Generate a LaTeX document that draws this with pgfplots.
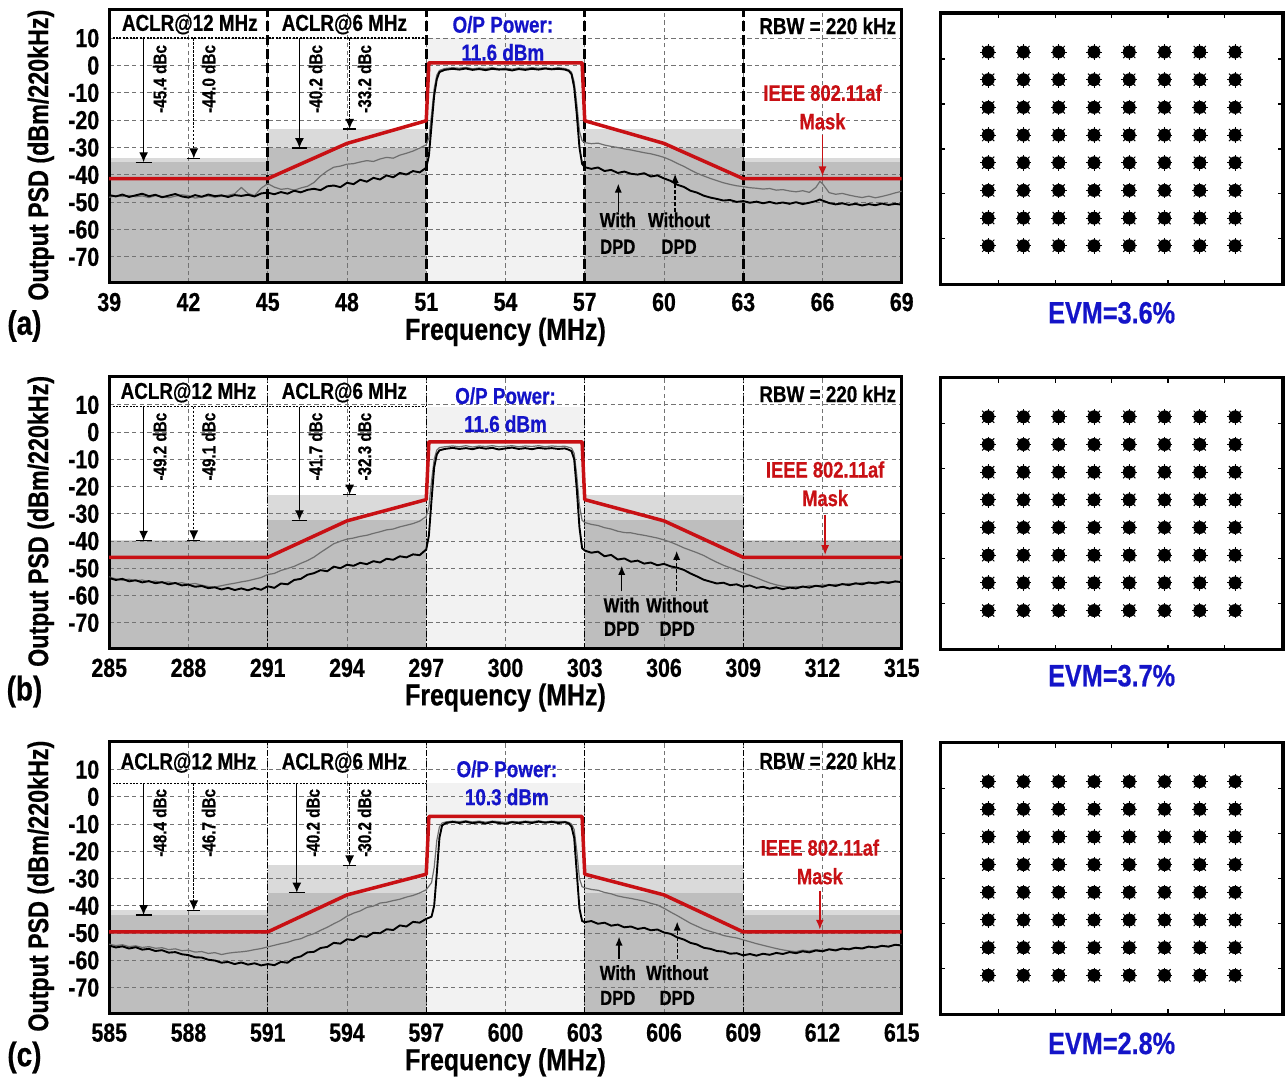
\documentclass[border=0pt]{standalone}
\usepackage{fontspec}
\setmainfont{Liberation Sans}[FakeStretch=0.82, FakeBold=0.6, UprightFont={* Bold}, BoldFont={* Bold}]
\usepackage{pgfplots}
\pgfplotsset{compat=1.18}
\usepackage{pgfplotstable}
\usetikzlibrary{arrows.meta}

\definecolor{maskred}{RGB}{200,16,20}
\definecolor{opblue}{RGB}{20,20,200}
\definecolor{shLight}{RGB}{218,218,218}
\definecolor{shDark}{RGB}{190,190,190}
\definecolor{shBand}{RGB}{242,242,242}
\definecolor{traceGray}{RGB}{110,110,110}
\newcommand{\fs}[2]{\fontsize{#1}{#2}\selectfont}

% ---------- spectra: f [MHz], with DPD (w), without DPD (wo) [dBm/220kHz]
\pgfplotstableread{
f w wo
39.00 -47.4 -48.2
39.25 -47.9 -47.6
39.50 -47.2 -47.9
39.75 -48.1 -47.5
40.00 -47.5 -48.0
40.25 -46.9 -47.7
40.50 -47.8 -48.3
40.75 -47.3 -47.6
41.00 -48.2 -47.9
41.25 -47.6 -48.4
41.50 -47.0 -47.8
41.75 -47.9 -47.3
42.00 -48.3 -47.6
42.25 -47.4 -48.5
42.50 -48.0 -48.1
42.75 -47.2 -47.7
43.00 -47.8 -48.2
43.25 -47.5 -47.8
43.50 -48.1 -47.5
43.75 -47.4 -46.9
44.00 -47.7 -44.6
44.25 -47.3 -46.8
44.50 -47.9 -47.6
44.75 -46.8 -44.9
45.00 -46.5 -43.2
45.25 -47.1 -44.5
45.50 -46.3 -45.3
45.75 -46.9 -45.0
46.00 -45.8 -45.6
46.25 -46.4 -44.8
46.50 -45.5 -44.2
46.75 -45.1 -42.8
47.00 -45.6 -40.4
47.25 -44.2 -38.6
47.50 -43.9 -37.2
47.75 -44.5 -36.8
48.00 -42.9 -36.1
48.25 -43.4 -35.9
48.50 -41.8 -35.3
48.75 -42.5 -34.8
49.00 -41.1 -35.1
49.25 -41.7 -34.2
49.50 -40.2 -33.6
49.75 -40.9 -33.9
50.00 -39.3 -32.8
50.25 -39.9 -32.1
50.50 -38.6 -31.3
50.75 -39.1 -30.2
51.00 -37.4 -29.0
51.10 -33.0 -26.5
51.20 -22.0 -18.0
51.30 -11.0 -8.5
51.40 -5.0 -3.5
51.50 -2.4 -1.8
51.70 -1.6 -1.1
52.00 -1.2 -0.8
52.25 -1.5 -1.0
52.50 -1.1 -0.7
52.75 -1.6 -1.2
53.00 -1.3 -0.9
53.25 -1.7 -1.1
53.50 -1.2 -0.8
53.75 -1.5 -1.2
54.00 -1.4 -1.0
54.25 -1.8 -1.3
54.50 -1.3 -0.9
54.75 -1.6 -1.1
55.00 -1.2 -0.8
55.25 -1.5 -1.0
55.50 -1.1 -0.9
55.75 -1.4 -1.1
56.00 -1.2 -0.8
56.25 -1.5 -1.1
56.40 -2.0 -1.6
56.50 -3.2 -2.5
56.60 -8.0 -6.0
56.70 -18.0 -14.0
56.80 -30.0 -24.0
56.90 -36.0 -27.5
57.00 -37.2 -28.2
57.25 -37.8 -28.6
57.50 -37.3 -28.4
57.75 -38.6 -29.1
58.00 -38.2 -29.6
58.25 -39.3 -30.0
58.50 -38.8 -30.5
58.75 -39.6 -30.9
59.00 -39.9 -31.4
59.25 -39.4 -31.9
59.50 -40.6 -32.3
59.75 -40.2 -32.9
60.00 -41.3 -33.6
60.25 -42.2 -34.6
60.50 -43.6 -35.8
60.75 -44.4 -36.9
61.00 -45.8 -38.2
61.25 -46.5 -39.4
61.50 -47.6 -40.4
61.75 -48.3 -41.3
62.00 -48.8 -42.1
62.25 -49.4 -42.9
62.50 -49.2 -43.5
62.75 -49.9 -44.0
63.00 -49.6 -44.3
63.25 -50.2 -44.7
63.50 -49.8 -44.9
63.75 -50.4 -45.2
64.00 -49.9 -45.0
64.25 -50.5 -45.6
64.50 -50.1 -45.4
64.75 -50.6 -45.9
65.00 -50.0 -46.2
65.25 -50.7 -45.8
65.50 -50.2 -46.4
65.75 -49.6 -44.6
65.90 -49.0 -42.4
66.00 -49.4 -43.2
66.25 -50.3 -46.5
66.50 -50.8 -47.1
66.75 -50.4 -46.8
67.00 -51.0 -47.4
67.25 -50.6 -47.9
67.50 -51.2 -48.3
67.75 -50.7 -47.8
68.00 -51.1 -48.4
68.25 -50.5 -47.9
68.50 -51.0 -47.3
68.75 -50.6 -46.6
69.00 -50.9 -46.0
}\psdA

\pgfplotstableread{
f w wo
285.00 -53.6 -53.2
285.25 -54.3 -53.9
285.50 -53.9 -54.4
285.75 -54.8 -54.0
286.00 -54.4 -54.6
286.25 -55.2 -54.3
286.50 -54.7 -55.0
286.75 -55.5 -54.7
287.00 -55.1 -55.3
287.25 -55.9 -55.0
287.50 -55.4 -55.6
287.75 -56.3 -55.3
288.00 -56.0 -55.9
288.25 -56.8 -55.6
288.50 -56.5 -56.2
288.75 -57.3 -56.7
289.00 -57.0 -56.9
289.25 -57.8 -56.4
289.50 -57.2 -55.9
289.75 -58.0 -55.5
290.00 -57.4 -55.0
290.25 -58.1 -54.6
290.50 -57.3 -54.0
290.75 -57.9 -53.4
291.00 -56.6 -52.3
291.25 -57.2 -51.9
291.50 -55.6 -50.8
291.75 -55.9 -50.1
292.00 -54.3 -49.3
292.25 -53.9 -48.2
292.50 -52.4 -47.2
292.75 -51.8 -45.9
293.00 -50.7 -44.2
293.25 -51.1 -42.6
293.50 -49.4 -41.0
293.75 -50.0 -40.1
294.00 -48.7 -39.3
294.25 -49.1 -38.9
294.50 -48.0 -38.3
294.75 -48.5 -37.9
295.00 -47.4 -37.2
295.25 -47.9 -36.6
295.50 -46.5 -35.9
295.75 -46.9 -35.6
296.00 -45.6 -34.8
296.25 -46.0 -34.2
296.50 -44.9 -33.6
296.75 -45.2 -32.7
297.00 -43.1 -31.0
297.10 -38.0 -27.5
297.20 -25.0 -18.0
297.30 -13.0 -10.0
297.40 -8.2 -6.6
297.50 -6.7 -5.7
297.70 -6.2 -5.4
298.00 -5.8 -5.1
298.25 -6.2 -5.4
298.50 -5.9 -5.0
298.75 -6.3 -5.5
299.00 -5.7 -5.1
299.25 -6.1 -5.3
299.50 -5.8 -5.0
299.75 -6.4 -5.4
300.00 -6.0 -5.2
300.25 -5.7 -5.0
300.50 -6.2 -5.4
300.75 -5.9 -5.1
301.00 -6.3 -5.3
301.25 -5.8 -5.0
301.50 -6.1 -5.4
301.75 -5.9 -5.1
302.00 -6.2 -5.3
302.25 -6.0 -5.2
302.40 -6.5 -5.6
302.50 -7.0 -5.9
302.60 -10.0 -7.8
302.70 -21.0 -16.0
302.80 -35.0 -27.0
302.90 -42.6 -32.4
303.00 -43.5 -33.2
303.25 -44.3 -33.9
303.50 -43.9 -34.3
303.75 -45.6 -35.1
304.00 -45.1 -35.6
304.25 -46.8 -36.4
304.50 -46.4 -36.9
304.75 -47.6 -37.0
305.00 -47.2 -37.5
305.25 -48.3 -37.9
305.50 -47.9 -38.4
305.75 -48.9 -38.9
306.00 -48.4 -39.6
306.25 -49.3 -40.4
306.50 -49.8 -41.4
306.75 -50.6 -42.5
307.00 -51.9 -43.4
307.25 -53.0 -44.3
307.50 -54.2 -45.3
307.75 -54.9 -46.6
308.00 -55.6 -47.8
308.25 -55.3 -48.9
308.50 -56.2 -49.8
308.75 -55.9 -50.8
309.00 -56.8 -51.7
309.25 -56.3 -52.6
309.50 -57.2 -53.5
309.75 -56.8 -54.5
310.00 -57.5 -55.4
310.25 -57.0 -56.1
310.50 -57.7 -56.6
310.75 -57.1 -56.9
311.00 -57.4 -56.7
311.25 -56.7 -56.9
311.50 -57.1 -56.4
311.75 -56.4 -56.6
312.00 -56.8 -56.1
312.25 -56.1 -56.3
312.50 -56.5 -55.9
312.75 -55.8 -56.0
313.00 -56.2 -55.6
313.25 -55.5 -55.8
313.50 -55.9 -55.3
313.75 -55.2 -55.5
314.00 -55.6 -55.1
314.25 -55.0 -55.3
314.50 -55.4 -54.9
314.75 -54.8 -55.1
315.00 -55.1 -54.8
}\psdB

\pgfplotstableread{
f w wo
585.00 -54.6 -54.1
585.25 -55.3 -54.6
585.50 -54.9 -54.3
585.75 -55.7 -55.0
586.00 -55.2 -54.7
586.25 -56.1 -55.3
586.50 -55.8 -55.0
586.75 -56.6 -55.6
587.00 -56.3 -55.4
587.25 -57.2 -56.1
587.50 -57.0 -55.8
587.75 -57.8 -56.5
588.00 -58.1 -56.3
588.25 -58.9 -57.0
588.50 -59.0 -56.8
588.75 -59.8 -57.5
589.00 -60.1 -57.2
589.25 -60.9 -57.9
589.50 -60.6 -57.4
589.75 -61.4 -57.1
590.00 -60.8 -56.9
590.25 -61.6 -56.6
590.50 -61.1 -56.1
590.75 -61.9 -55.7
591.00 -61.4 -55.1
591.25 -61.8 -54.5
591.50 -60.6 -53.9
591.75 -60.9 -53.4
592.00 -59.2 -52.6
592.25 -58.6 -52.1
592.50 -57.1 -51.0
592.75 -56.9 -50.2
593.00 -55.5 -49.0
593.25 -55.1 -47.9
593.50 -53.6 -46.6
593.75 -53.9 -45.4
594.00 -52.3 -43.8
594.25 -52.6 -42.7
594.50 -51.1 -41.9
594.75 -51.4 -40.6
595.00 -49.9 -40.1
595.25 -50.1 -39.0
595.50 -48.6 -38.7
595.75 -48.9 -38.1
596.00 -47.2 -37.6
596.25 -47.6 -36.8
596.50 -45.9 -36.2
596.75 -46.2 -35.3
597.00 -44.8 -34.1
597.20 -44.0 -31.5
597.30 -40.0 -26.0
597.40 -28.0 -16.0
597.50 -15.0 -11.0
597.60 -10.5 -9.6
597.75 -9.6 -9.2
598.00 -9.2 -8.9
598.25 -9.6 -9.1
598.50 -9.1 -8.8
598.75 -9.7 -9.2
599.00 -9.3 -8.9
599.25 -9.8 -9.3
599.50 -9.2 -8.9
599.75 -9.6 -9.1
600.00 -9.9 -9.4
600.25 -9.3 -9.0
600.50 -9.7 -9.2
600.75 -9.2 -8.9
601.00 -9.6 -9.1
601.25 -9.1 -8.8
601.50 -9.5 -9.2
601.75 -9.2 -8.9
602.00 -9.6 -9.1
602.25 -9.3 -9.0
602.40 -9.8 -9.4
602.50 -11.0 -10.0
602.60 -15.0 -12.0
602.70 -28.0 -20.0
602.80 -41.0 -30.0
602.90 -45.6 -33.0
603.00 -46.0 -33.4
603.25 -45.6 -34.0
603.50 -46.6 -34.3
603.75 -46.2 -35.1
604.00 -47.3 -35.6
604.25 -46.9 -36.4
604.50 -47.9 -36.9
604.75 -47.6 -37.3
605.00 -48.5 -37.8
605.25 -48.1 -38.3
605.50 -49.0 -39.1
605.75 -48.7 -39.7
606.00 -49.8 -40.9
606.25 -50.3 -42.3
606.50 -51.6 -43.6
606.75 -52.4 -45.0
607.00 -53.6 -46.4
607.25 -54.2 -47.5
607.50 -55.4 -48.6
607.75 -55.8 -49.4
608.00 -56.6 -50.1
608.25 -56.8 -50.9
608.50 -57.6 -51.4
608.75 -57.4 -51.8
609.00 -58.2 -52.5
609.25 -57.7 -53.2
609.50 -58.3 -53.9
609.75 -57.6 -54.5
610.00 -58.0 -55.1
610.25 -57.3 -55.7
610.50 -57.7 -56.2
610.75 -57.0 -56.6
611.00 -57.4 -56.8
611.25 -56.7 -56.3
611.50 -57.1 -56.6
611.75 -56.4 -56.1
612.00 -56.7 -56.4
612.25 -56.0 -55.9
612.50 -56.4 -56.1
612.75 -55.7 -55.6
613.00 -56.0 -55.8
613.25 -55.4 -55.3
613.50 -55.7 -55.5
613.75 -55.0 -54.9
614.00 -55.3 -55.2
614.25 -54.7 -54.6
614.50 -55.0 -54.9
614.75 -54.3 -54.4
615.00 -54.6 -54.3
}\psdC

% ---------- 64-QAM constellation points (I, Q)
\pgfplotstableread{
I Q
-7 -7
-5 -7
-3 -7
-1 -7
1 -7
3 -7
5 -7
7 -7
-7 -5
-5 -5
-3 -5
-1 -5
1 -5
3 -5
5 -5
7 -5
-7 -3
-5 -3
-3 -3
-1 -3
1 -3
3 -3
5 -3
7 -3
-7 -1
-5 -1
-3 -1
-1 -1
1 -1
3 -1
5 -1
7 -1
-7 1
-5 1
-3 1
-1 1
1 1
3 1
5 1
7 1
-7 3
-5 3
-3 3
-1 3
1 3
3 3
5 3
7 3
-7 5
-5 5
-3 5
-1 5
1 5
3 5
5 5
7 5
-7 7
-5 7
-3 7
-1 7
1 7
3 7
5 7
7 7
}\qam

\tikzset{
  dbc/.style={rotate=90, anchor=north east, inner sep=0.5pt, font=\fs{9.3}{9.3}},
  hdr/.style={font=\fs{11.5}{11.5}, inner sep=0pt},
  pnl/.style={font=\fs{17}{17}},
  evm/.style={font=\fs{15.4}{15.4}, text=opblue},
}

\pgfplotsset{
  psd/.style={
    scale only axis, width=396.5pt, height=136pt, anchor=north west,
    set layers, clip mode=individual,
    axis line style={line width=1.5pt},
    ymin=-79.5, ymax=20.3, ytick={-70,-60,...,10},
    major tick length=0pt,
    grid=major,
    major grid style={black!55, line width=0.45pt, dash pattern=on 2.2pt off 1.6pt},
    /pgf/number format/assume math mode=true,
    tick label style={font=\fs{13}{13}},
    xticklabel style={yshift=-1.5pt},
    yticklabel style={xshift=-1.5pt},
    xlabel={Frequency (MHz)},
    ylabel={Output PSD (dBm/220kHz)},
    xlabel style={at={(axis description cs:0.5,-0.18)}, anchor=center, font=\fs{15.2}{15.2}},
    ylabel style={at={(axis description cs:-0.0864,0.468)}, anchor=center, font=\fs{14.2}{14.2}},
  },
  shade/.style={draw=none, fill=#1, on layer=axis background},
  sepA/.style={black, line width=1.5pt, dash pattern=on 5pt off 2pt},
  sepB/.style={black, line width=0.6pt, dash pattern=on 3pt off 1pt on 0.6pt off 1pt},
  refline/.style={black, line width=0.7pt, dash pattern=on 1pt off 0.7pt},
  aclrsolid/.style={black, line width=0.65pt, -{Latex[length=5pt,width=4.5pt]}},
  aclrdot/.style={black, line width=0.65pt, dash pattern=on 1.2pt off 0.8pt, -{Latex[length=5pt,width=4.5pt]}},
  tbar/.style={black, line width=0.65pt},
  withar/.style={black, line width=0.7pt, -{Latex[length=4.5pt,width=3.6pt]}},
  withoutar/.style={black, line width=0.7pt, dash pattern=on 2pt off 1pt, -{Latex[length=4.5pt,width=3.6pt]}},
  maskar/.style={maskred, line width=0.8pt, -{Latex[length=5pt,width=4pt]}},
  wotrace/.style={traceGray, line width=0.6pt, line join=round},
  wtrace/.style={black, line width=0.95pt, line join=round},
  masktrace/.style={maskred, line width=1.75pt, line join=round},
  const/.style={
    scale only axis, width=171.5pt, height=136pt, anchor=north west,
    clip mode=individual,
    xmin=-9.72, xmax=9.72, ymin=-9.82, ymax=9.82,
    xtick={-6.4,-3.2,0,3.2,6.4}, ytick={-6.5,-3.25,0,3.25,6.5},
    xticklabels={}, yticklabels={},
    tick align=inside, major tick length=2.5pt,
    tick style={black, line width=0.6pt},
    axis line style={line width=1.6pt},
  },
  qdot/.style={only marks, mark=*, mark size=3.0pt, black},
  qx/.style={only marks, mark=x, mark size=4.3pt, black, mark options={line width=0.5pt}},
  qp/.style={only marks, mark=+, mark size=3.9pt, black, mark options={line width=0.5pt}},
}

\begin{document}
\begin{tikzpicture}
\path (0,0) rectangle (643.5pt,-543.5pt);

% ================= (a) 39-69 MHz =================
\begin{axis}[psd, at={(54.25pt,-5pt)}, height=136.5pt, xmin=39, xmax=69, xtick={39,42,...,69}]
  \addplot[shade=shLight] coordinates {(39,-34.0) (45,-34.0) (45,-35.4) (39,-35.4)} --cycle;
  \addplot[shade=shDark] coordinates {(39,-35.4) (45,-35.4) (45,-79.5) (39,-79.5)} --cycle;
  \addplot[shade=shLight] coordinates {(45,-23.2) (51,-23.2) (51,-30.2) (45,-30.2)} --cycle;
  \addplot[shade=shDark] coordinates {(45,-30.2) (51,-30.2) (51,-79.5) (45,-79.5)} --cycle;
  \addplot[shade=shBand] coordinates {(51,10) (57,10) (57,-79.5) (51,-79.5)} --cycle;
  \addplot[shade=shLight] coordinates {(57,-23.2) (63,-23.2) (63,-30.2) (57,-30.2)} --cycle;
  \addplot[shade=shDark] coordinates {(57,-30.2) (63,-30.2) (63,-79.5) (57,-79.5)} --cycle;
  \addplot[shade=shLight] coordinates {(63,-34.0) (69,-34.0) (69,-35.4) (63,-35.4)} --cycle;
  \addplot[shade=shDark] coordinates {(63,-35.4) (69,-35.4) (69,-79.5) (63,-79.5)} --cycle;

  \addplot[sepA] coordinates {(45,-79.5) (45,20.3)};
  \addplot[sepA] coordinates {(51,-79.5) (51,20.3)};
  \addplot[sepA] coordinates {(57,-79.5) (57,20.3)};
  \addplot[sepA] coordinates {(63,-79.5) (63,20.3)};
  \addplot[refline] coordinates {(39,10) (51,10)};

  \addplot[wotrace] table[x=f, y=wo] {\psdA};
  \addplot[wtrace] table[x=f, y=w] {\psdA};
  \addplot[masktrace] coordinates {(39,-41.4) (45,-41.4) (48,-28.5) (51,-20.2) (51.1,1.0) (56.9,1.0) (57,-20.2) (60,-28.5) (63,-41.4) (69,-41.4)};

  % ACLR annotations: reference level 10 dBm/220kHz
  \addplot[aclrsolid] coordinates {(40.3,10) (40.3,-35.4)};
  \addplot[tbar] coordinates {(40.0,-35.4) (40.6,-35.4)};
  \addplot[aclrdot] coordinates {(42.2,10) (42.2,-34.0)};
  \addplot[tbar] coordinates {(41.95,-34.0) (42.45,-34.0)};
  \addplot[aclrsolid] coordinates {(46.2,10) (46.2,-30.2)};
  \addplot[tbar] coordinates {(45.9,-30.2) (46.5,-30.2)};
  \addplot[aclrdot] coordinates {(48.1,10) (48.1,-23.2)};
  \addplot[tbar] coordinates {(47.85,-23.2) (48.35,-23.2)};
  \node[dbc] at (axis cs:40.6,8) {-45.4 dBc};
  \node[dbc] at (axis cs:42.45,8) {-44.0 dBc};
  \node[dbc] at (axis cs:46.5,8) {-40.2 dBc};
  \node[dbc] at (axis cs:48.35,8) {-33.2 dBc};
  \node[hdr] at (axis cs:42.05,15) {ACLR@12 MHz};
  \node[hdr] at (axis cs:47.9,15) {ACLR@6 MHz};
  \node[hdr, text=opblue, align=center, font=\fs{11.5}{14}] at (axis cs:53.9,9.9) {O/P Power:\\11.6 dBm};
  \node[hdr, anchor=east] at (axis cs:68.8,14.5) {RBW = 220 kHz};
  \node[hdr, text=maskred, align=center, font=\fs{11.2}{14.3}] at (axis cs:66,-15.2) {IEEE 802.11af\\Mask};
  \addplot[maskar] coordinates {(66,-25.5) (66,-40.6)};
  \addplot[withar] coordinates {(58.27,-53.5) (58.27,-43.2)};
  \addplot[withoutar] coordinates {(60.42,-53.5) (60.42,-39.6)};
  \node[align=center, font=\fs{10.2}{13.3}] at (axis cs:58.25,-61.3) {With\\DPD};
  \node[align=center, font=\fs{10.2}{13.3}] at (axis cs:60.57,-61.3) {Without\\DPD};
  \node[pnl] at (rel axis cs:-0.107,-0.158) {(a)};
\end{axis}

% ================= (b) 285-315 MHz =================
\begin{axis}[psd, at={(54.25pt,-188.5pt)}, xmin=285, xmax=315, xtick={285,288,...,315}]
  \addplot[shade=shLight] coordinates {(285,-39.8) (291,-39.8) (291,-39.9) (285,-39.9)} --cycle;
  \addplot[shade=shDark] coordinates {(285,-39.9) (291,-39.9) (291,-79.5) (285,-79.5)} --cycle;
  \addplot[shade=shLight] coordinates {(291,-23.0) (297,-23.0) (297,-32.4) (291,-32.4)} --cycle;
  \addplot[shade=shDark] coordinates {(291,-32.4) (297,-32.4) (297,-79.5) (291,-79.5)} --cycle;
  \addplot[shade=shBand] coordinates {(297,9.3) (303,9.3) (303,-79.5) (297,-79.5)} --cycle;
  \addplot[shade=shLight] coordinates {(303,-23.0) (309,-23.0) (309,-32.4) (303,-32.4)} --cycle;
  \addplot[shade=shDark] coordinates {(303,-32.4) (309,-32.4) (309,-79.5) (303,-79.5)} --cycle;
  \addplot[shade=shLight] coordinates {(309,-39.8) (315,-39.8) (315,-39.9) (309,-39.9)} --cycle;
  \addplot[shade=shDark] coordinates {(309,-39.9) (315,-39.9) (315,-79.5) (309,-79.5)} --cycle;

  \addplot[sepB] coordinates {(291,-79.5) (291,20.3)};
  \addplot[sepB] coordinates {(297,-79.5) (297,20.3)};
  \addplot[sepB] coordinates {(303,-79.5) (303,20.3)};
  \addplot[sepB] coordinates {(309,-79.5) (309,20.3)};
  \addplot[refline] coordinates {(285,9.3) (297,9.3)};

  \addplot[wotrace] table[x=f, y=wo] {\psdB};
  \addplot[wtrace] table[x=f, y=w] {\psdB};
  \addplot[masktrace] coordinates {(285,-46) (291,-46) (294,-32.6) (297,-24.8) (297.1,-3.6) (302.9,-3.6) (303,-24.8) (306,-32.6) (309,-46) (315,-46)};

  % ACLR annotations: reference level 9.3 dBm/220kHz
  \addplot[aclrsolid] coordinates {(286.3,9.3) (286.3,-39.9)};
  \addplot[tbar] coordinates {(286.0,-39.9) (286.6,-39.9)};
  \addplot[aclrdot] coordinates {(288.2,9.3) (288.2,-39.8)};
  \addplot[tbar] coordinates {(287.95,-39.8) (288.45,-39.8)};
  \addplot[aclrsolid] coordinates {(292.2,9.3) (292.2,-32.4)};
  \addplot[tbar] coordinates {(291.9,-32.4) (292.5,-32.4)};
  \addplot[aclrdot] coordinates {(294.1,9.3) (294.1,-23.0)};
  \addplot[tbar] coordinates {(293.85,-23.0) (294.35,-23.0)};
  \node[dbc] at (axis cs:286.6,7.6) {-49.2 dBc};
  \node[dbc] at (axis cs:288.45,7.6) {-49.1 dBc};
  \node[dbc] at (axis cs:292.5,7.6) {-41.7 dBc};
  \node[dbc] at (axis cs:294.35,7.6) {-32.3 dBc};
  \node[hdr] at (axis cs:288.0,14.5) {ACLR@12 MHz};
  \node[hdr] at (axis cs:293.9,14.5) {ACLR@6 MHz};
  \node[hdr, text=opblue, align=center, font=\fs{11.5}{14}] at (axis cs:300,8.2) {O/P Power:\\11.6 dBm};
  \node[hdr, anchor=east] at (axis cs:314.8,14) {RBW = 220 kHz};
  \node[hdr, text=maskred, align=center, font=\fs{11.2}{14.3}] at (axis cs:312.1,-19) {IEEE 802.11af\\Mask};
  \addplot[maskar] coordinates {(312.1,-30.3) (312.1,-45.2)};
  \addplot[withar] coordinates {(304.4,-58.5) (304.4,-49.1)};
  \addplot[withoutar] coordinates {(306.48,-58.5) (306.48,-43.6)};
  \node[align=center, font=\fs{10.2}{11.7}] at (axis cs:304.4,-67.8) {With\\DPD};
  \node[align=center, font=\fs{10.2}{11.7}] at (axis cs:306.5,-67.8) {Without\\DPD};
  \node[pnl] at (rel axis cs:-0.107,-0.158) {(b)};
\end{axis}

% ================= (c) 585-615 MHz =================
\begin{axis}[psd, at={(54.25pt,-371pt)}, xmin=585, xmax=615, xtick={585,588,...,615}]
  \addplot[shade=shLight] coordinates {(585,-41.7) (591,-41.7) (591,-43.4) (585,-43.4)} --cycle;
  \addplot[shade=shDark] coordinates {(585,-43.4) (591,-43.4) (591,-79.5) (585,-79.5)} --cycle;
  \addplot[shade=shLight] coordinates {(591,-25.2) (597,-25.2) (597,-35.2) (591,-35.2)} --cycle;
  \addplot[shade=shDark] coordinates {(591,-35.2) (597,-35.2) (597,-79.5) (591,-79.5)} --cycle;
  \addplot[shade=shBand] coordinates {(597,5) (603,5) (603,-79.5) (597,-79.5)} --cycle;
  \addplot[shade=shLight] coordinates {(603,-25.2) (609,-25.2) (609,-35.2) (603,-35.2)} --cycle;
  \addplot[shade=shDark] coordinates {(603,-35.2) (609,-35.2) (609,-79.5) (603,-79.5)} --cycle;
  \addplot[shade=shLight] coordinates {(609,-41.7) (615,-41.7) (615,-43.4) (609,-43.4)} --cycle;
  \addplot[shade=shDark] coordinates {(609,-43.4) (615,-43.4) (615,-79.5) (609,-79.5)} --cycle;

  \addplot[sepB] coordinates {(591,-79.5) (591,20.3)};
  \addplot[sepB] coordinates {(597,-79.5) (597,20.3)};
  \addplot[sepB] coordinates {(603,-79.5) (603,20.3)};
  \addplot[sepB] coordinates {(609,-79.5) (609,20.3)};
  \addplot[refline] coordinates {(585,5) (597,5)};

  \addplot[wotrace] table[x=f, y=wo] {\psdC};
  \addplot[wtrace] table[x=f, y=w] {\psdC};
  \addplot[masktrace] coordinates {(585,-49.6) (591,-49.6) (594,-36) (597,-28.4) (597.1,-7.2) (602.9,-7.2) (603,-28.4) (606,-36) (609,-49.6) (615,-49.6)};

  % ACLR annotations: reference level 5 dBm/220kHz
  \addplot[aclrsolid] coordinates {(586.3,5) (586.3,-43.4)};
  \addplot[tbar] coordinates {(586.0,-43.4) (586.6,-43.4)};
  \addplot[aclrdot] coordinates {(588.2,5) (588.2,-41.7)};
  \addplot[tbar] coordinates {(587.95,-41.7) (588.45,-41.7)};
  \addplot[aclrsolid] coordinates {(592.1,5) (592.1,-35.2)};
  \addplot[tbar] coordinates {(591.8,-35.2) (592.4,-35.2)};
  \addplot[aclrdot] coordinates {(594.1,5) (594.1,-25.2)};
  \addplot[tbar] coordinates {(593.85,-25.2) (594.35,-25.2)};
  \node[dbc] at (axis cs:586.6,3.4) {-48.4 dBc};
  \node[dbc] at (axis cs:588.45,3.4) {-46.7 dBc};
  \node[dbc] at (axis cs:592.4,3.4) {-40.2 dBc};
  \node[dbc] at (axis cs:594.35,3.4) {-30.2 dBc};
  \node[hdr] at (axis cs:588.0,12.5) {ACLR@12 MHz};
  \node[hdr] at (axis cs:593.9,12.5) {ACLR@6 MHz};
  \node[hdr, text=opblue, align=center, font=\fs{11.5}{14}] at (axis cs:600.05,5.1) {O/P Power:\\10.3 dBm};
  \node[hdr, anchor=east] at (axis cs:614.8,13.3) {RBW = 220 kHz};
  \node[hdr, text=maskred, align=center, font=\fs{11.2}{14.3}] at (axis cs:611.9,-23.9) {IEEE 802.11af\\Mask};
  \addplot[maskar] coordinates {(611.9,-34.4) (611.9,-48.8)};
  \addplot[withar] coordinates {(604.3,-59.5) (604.3,-51.3)};
  \addplot[withoutar] coordinates {(606.5,-59.5) (606.5,-45.8)};
  \node[align=center, font=\fs{10.2}{12.5}] at (axis cs:604.25,-69.1) {With\\DPD};
  \node[align=center, font=\fs{10.2}{12.5}] at (axis cs:606.5,-69.1) {Without\\DPD};
  \node[pnl] at (rel axis cs:-0.107,-0.162) {(c)};
\end{axis}

% ================= constellations =================
\begin{axis}[const, at={(470pt,-6.5pt)}]
  \addplot[qdot] table[x=I, y=Q] {\qam};
  \addplot[qx] table[x=I, y=Q] {\qam};
  \addplot[qp] table[x=I, y=Q] {\qam};
  \node[evm] at (rel axis cs:0.5,-0.103) {EVM=3.6\%};
\end{axis}

\begin{axis}[const, at={(470pt,-189pt)}]
  \addplot[qdot] table[x=I, y=Q] {\qam};
  \addplot[qx] table[x=I, y=Q] {\qam};
  \addplot[qp] table[x=I, y=Q] {\qam};
  \node[evm] at (rel axis cs:0.5,-0.096) {EVM=3.7\%};
\end{axis}

\begin{axis}[const, at={(470pt,-371.5pt)}]
  \addplot[qdot] table[x=I, y=Q] {\qam};
  \addplot[qx] table[x=I, y=Q] {\qam};
  \addplot[qp] table[x=I, y=Q] {\qam};
  \node[evm] at (rel axis cs:0.5,-0.107) {EVM=2.8\%};
\end{axis}
\end{tikzpicture}
\end{document}
